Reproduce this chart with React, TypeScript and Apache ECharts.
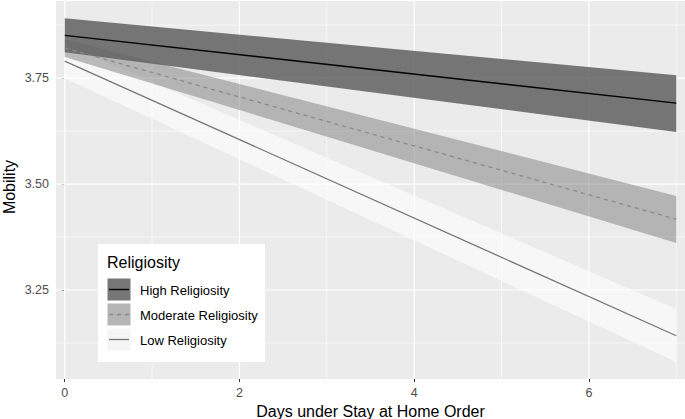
import React, { useEffect, useRef } from "react";
import * as echarts from "echarts";

const xEnds = [0, 7];
const highFit = [3.851, 3.691];
const highLower = [3.811, 3.623];
const highUpper = [3.891, 3.757];
const modFit = [3.821, 3.417];
const modLower = [3.800, 3.361];
const modUpper = [3.842, 3.472];
const lowFit = [3.790, 3.142];
const lowLower = [3.750, 3.080];
const lowUpper = [3.830, 3.205];
const xTicks = [0, 2, 4, 6];
const xMinor = [1, 3, 5, 7];
const yTicks = [3.25, 3.5, 3.75];
const yMinor = [3.125, 3.375, 3.625, 3.875];
const legendLabels = ["High Religiosity", "Moderate Religiosity", "Low Religiosity"];
const yTitle = "Mobility";

const X_MIN = -0.1;
const X_MAX = 7.1;
const Y_MIN = 3.04;
const Y_MAX = 3.932;

const FONT = "Liberation Sans, Arial, sans-serif";

function pts(ys: number[]) {
  return xEnds.map((x, i) => [x, ys[i]]);
}

function band(name: string, lower: number[], upper: number[], color: string, z: number) {
  return {
    type: "custom",
    name,
    silent: true,
    z,
    data: xEnds.map((x, i) => [x, lower[i], upper[i]]),
    encode: { x: 0, y: [1, 2] },
    renderItem: (params: any, api: any) => {
      if (params.dataIndex !== 0) return null;
      const top = xEnds.map((x, i) => api.coord([x, upper[i]]));
      const bot = xEnds.map((x, i) => api.coord([x, lower[i]])).reverse();
      return {
        type: "polygon",
        shape: { points: [...top, ...bot] },
        style: { fill: color },
      };
    },
  };
}

const gridSeries = {
  type: "custom",
  silent: true,
  z: 1,
  data: [[0, 3.5]],
  renderItem: (params: any, api: any) => {
    const children: any[] = [];
    const vline = (x: number, w: number) => {
      const a = api.coord([x, Y_MIN]);
      const b = api.coord([x, Y_MAX]);
      children.push({ type: "line", shape: { x1: a[0], y1: a[1], x2: b[0], y2: b[1] }, style: { stroke: "#ffffff", lineWidth: w } });
    };
    const hline = (y: number, w: number) => {
      const a = api.coord([X_MIN, y]);
      const b = api.coord([X_MAX, y]);
      children.push({ type: "line", shape: { x1: a[0], y1: a[1], x2: b[0], y2: b[1] }, style: { stroke: "#ffffff", lineWidth: w } });
    };
    xMinor.forEach((v) => vline(v, 0.6));
    yMinor.forEach((v) => hline(v, 0.6));
    xTicks.forEach((v) => vline(v, 1.2));
    yTicks.forEach((v) => hline(v, 1.2));
    return { type: "group", children };
  },
};

export default function App() {
  const ref = useRef<HTMLDivElement>(null);
  useEffect(() => {
    if (!ref.current) return;
    const chart = echarts.init(ref.current, undefined, { renderer: "svg" });
    const keyX = 107;
    const keyYs = [278, 303, 328];
    const keyFills = ["#777777", "#b5b5b5", "#f5f5f5"];
    const graphics: any[] = [
      {
        type: "text",
        x: 9,
        y: 187,
        rotation: Math.PI / 2,
        style: {
          text: yTitle,
          font: "16px " + FONT,
          fill: "#000",
          textAlign: "center",
          textVerticalAlign: "middle",
        },
        z: 50,
      },
      { type: "rect", shape: { x: 98, y: 244, width: 167, height: 118 }, style: { fill: "#ffffff" }, z: 100 },
      {
        type: "text",
        x: 107,
        y: 262,
        style: { text: "Religiosity", font: "16px " + FONT, fill: "#000", textVerticalAlign: "middle" },
        z: 101,
      },
    ];
    keyYs.forEach((ky, i) => {
      graphics.push({
        type: "rect",
        shape: { x: keyX, y: ky, width: 24, height: 23 },
        style: { fill: keyFills[i], stroke: "#ffffff", lineWidth: 1 },
        z: 101,
      });
      graphics.push({
        type: "line",
        shape: { x1: keyX + 2, y1: ky + 11.5, x2: keyX + 22, y2: ky + 11.5 },
        style: {
          stroke: i === 0 ? "#000000" : i === 1 ? "#8a8a8a" : "#777777",
          lineWidth: i === 0 ? 1.4 : 1.3,
          lineDash: i === 1 ? [4, 4] : null,
        },
        z: 102,
      });
      graphics.push({
        type: "text",
        x: 140,
        y: ky + 12,
        style: { text: legendLabels[i], font: "13px " + FONT, fill: "#000", textVerticalAlign: "middle" },
        z: 102,
      });
    });

    chart.setOption({
      animation: false,
      grid: {
        left: 56,
        right: 0,
        top: 1,
        bottom: 40,
        show: true,
        backgroundColor: "#EBEBEB",
        borderWidth: 0,
        containLabel: false,
        outerBoundsMode: "none",
      },
      xAxis: {
        type: "value",
        min: X_MIN,
        max: X_MAX,
        name: "Days under Stay at Home Order",
        nameLocation: "middle",
        nameGap: 23,
        nameTextStyle: { fontSize: 16, color: "#000", fontFamily: FONT },
        axisLine: { show: false },
        splitLine: { show: false },
        axisTick: { show: true, customValues: xTicks, length: 3, lineStyle: { color: "#333" } },
        axisLabel: {
          customValues: xTicks,
          color: "#4d4d4d",
          fontSize: 12.5,
          fontFamily: FONT,
          margin: 7,
        },
      },
      yAxis: {
        type: "value",
        min: Y_MIN,
        max: Y_MAX,
        axisLine: { show: false },
        splitLine: { show: false },
        axisTick: { show: true, customValues: yTicks, length: 3, lineStyle: { color: "#333" } },
        axisLabel: {
          customValues: yTicks,
          formatter: (v: number) => v.toFixed(2),
          color: "#4d4d4d",
          fontSize: 12.5,
          fontFamily: FONT,
          margin: 7,
        },
      },
      series: [
        gridSeries,
        band("low", lowLower, lowUpper, "rgba(255,255,255,0.6)", 2),
        band("mod", modLower, modUpper, "rgba(125,125,125,0.5)", 3),
        band("high", highLower, highUpper, "rgba(96,96,96,0.85)", 4),
        {
          type: "line",
          name: legendLabels[0],
          data: pts(highFit),
          symbol: "none",
          lineStyle: { color: "#000000", width: 1.4 },
          z: 10,
        },
        {
          type: "line",
          name: legendLabels[1],
          data: pts(modFit),
          symbol: "none",
          lineStyle: { color: "#8a8a8a", width: 1.3, type: [4, 4] },
          z: 10,
        },
        {
          type: "line",
          name: legendLabels[2],
          data: pts(lowFit),
          symbol: "none",
          lineStyle: { color: "#777777", width: 1.3 },
          z: 10,
        },
      ],
      graphic: graphics,
    });
    return () => chart.dispose();
  }, []);
  return <div ref={ref} style={{ width: 685, height: 419, position: "absolute", left: 0, top: 0 }} />;
}
